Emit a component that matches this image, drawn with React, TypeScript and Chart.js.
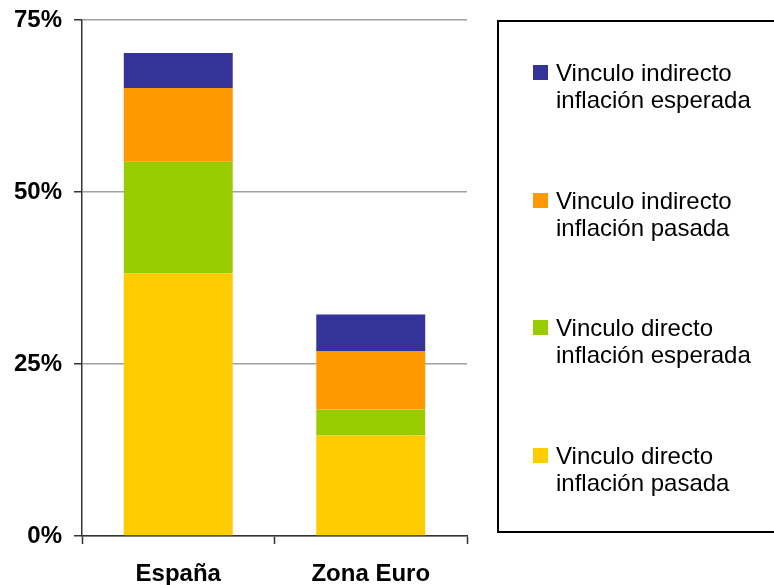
import React, { useEffect, useRef } from "react";
import { Chart, registerables } from "chart.js";

Chart.register(...registerables);

const categories = ["España", "Zona Euro"];
const seriesNames = [
  ["Vinculo directo", "inflación pasada"],
  ["Vinculo directo", "inflación esperada"],
  ["Vinculo indirecto", "inflación pasada"],
  ["Vinculo indirecto", "inflación esperada"],
];
const directoPasada = [38.2, 14.6];
const directoEsperada = [16.2, 3.8];
const indirectoPasada = [10.7, 8.5];
const indirectoEsperada = [5.1, 5.3];
const seriesColors = ["#FFCC00", "#99CC00", "#FF9900", "#333399"];
const yTicks = [0, 25, 50, 75];

const FONT = "'Liberation Sans', Arial, sans-serif";

export default function App() {
  const ref = useRef<HTMLCanvasElement | null>(null);

  useEffect(() => {
    document.body.style.margin = "0";
    const values = [directoPasada, directoEsperada, indirectoPasada, indirectoEsperada];
    const chart = new Chart(ref.current as HTMLCanvasElement, {
      type: "bar",
      data: {
        labels: categories,
        datasets: values.map((v, i) => ({
          label: seriesNames[i].join(" "),
          data: v,
          backgroundColor: seriesColors[i],
          borderWidth: 0,
          barPercentage: 0.566,
          categoryPercentage: 1,
        })),
      },
      options: {
        animation: false,
        responsive: false,
        maintainAspectRatio: false,
        layout: { padding: { top: 20, right: 307, left: 0, bottom: 0 } },
        plugins: { legend: { display: false }, tooltip: { enabled: false } },
        scales: {
          x: {
            stacked: true,
            grid: {
              drawOnChartArea: false,
              drawTicks: true,
              tickLength: 8,
              tickColor: "#333333",
              tickWidth: 1.5,
            },
            border: { color: "#333333", width: 1.5 },
            ticks: {
              color: "#000",
              font: { family: FONT, size: 24, weight: "bold" },
              padding: 16,
              maxRotation: 0,
            },
            afterFit: (s: any) => {
              s.height = 49;
              s.paddingLeft = 0;
              s.paddingRight = 0;
            },
          },
          y: {
            stacked: true,
            min: yTicks[0],
            max: yTicks[yTicks.length - 1],
            afterBuildTicks: (s: any) => {
              s.ticks = yTicks.map((v) => ({ value: v }));
            },
            grid: {
              color: "#a0a0a0",
              lineWidth: 1.5,
              drawTicks: true,
              tickLength: 8,
              tickColor: "#333333",
              tickWidth: 1.5,
            },
            border: { color: "#333333", width: 1.5 },
            ticks: {
              color: "#000",
              font: { family: FONT, size: 24, weight: "bold" },
              padding: 12,
              callback: (v: any) => v + "%",
            },
            afterFit: (s: any) => {
              s.width = 82;
              s.paddingTop = 0;
              s.paddingBottom = 0;
            },
          },
        },
      },
    });
    return () => chart.destroy();
  }, []);

  const legendOrder = [3, 2, 1, 0];

  return (
    <div style={{ position: "absolute", left: 0, top: 0, width: 774, height: 585, overflow: "hidden", background: "#fff" }}>
      <canvas ref={ref} width={774} height={585} style={{ position: "absolute", left: 0, top: 0 }} />
      <div
        style={{
          position: "absolute",
          left: 497,
          top: 20,
          width: 300,
          height: 513,
          border: "2px solid #000",
          boxSizing: "border-box",
        }}
      />
      {legendOrder.map((si, i) => (
        <div key={si}>
          <div
            style={{
              position: "absolute",
              left: 533,
              top: 65 + i * 127.5,
              width: 15,
              height: 15,
              background: seriesColors[si],
            }}
          />
          <div
            style={{
              position: "absolute",
              left: 556,
              top: 59 + i * 127.5,
              fontFamily: FONT,
              fontSize: 24,
              lineHeight: "27px",
              color: "#000",
              whiteSpace: "nowrap",
            }}
          >
            {seriesNames[si].map((line, k) => (
              <div key={k}>{line}</div>
            ))}
          </div>
        </div>
      ))}
    </div>
  );
}
